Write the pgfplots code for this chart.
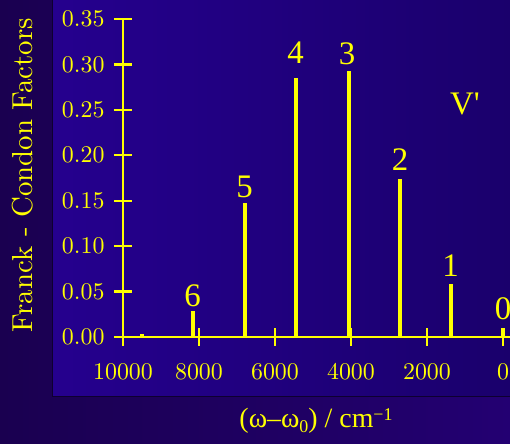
\documentclass[border=0pt]{standalone}
\usepackage{pgfplots}
\pgfplotsset{compat=1.18}
\usepackage{fontspec}
\setmainfont{lmroman10-regular}[Extension=.otf]
\newfontfamily\tnr{Liberation Serif}
\definecolor{outerL}{HTML}{1A0050}
\definecolor{outerR}{HTML}{230072}
\definecolor{panelL}{HTML}{25008E}
\definecolor{panelR}{HTML}{1A006C}
\definecolor{edge}{HTML}{0E0030}
\definecolor{yel}{HTML}{FFFF00}
\begin{document}
\begin{tikzpicture}
\useasboundingbox (0,0) rectangle (510bp,444bp);
\shade[left color=outerL, right color=outerR] (0,0) rectangle (510bp,444bp);
\shade[left color=panelL, right color=panelR] (52bp,47bp) rectangle (510bp,444bp);
\draw[edge, line width=1bp] (52bp,444bp) -- (52bp,47bp) -- (510bp,47bp);
\begin{axis}[
  at={(123bp,107bp)}, anchor=south west,
  scale only axis, width=387.6bp, height=318bp,
  x dir=reverse,
  xmin=-200, xmax=10000, ymin=0, ymax=0.35,
  axis x line*=bottom, axis y line*=left,
  axis line style={yel, line width=2.6bp},
  xtick={0,2000,4000,6000,8000,10000},
  ytick={0,0.05,0.10,0.15,0.20,0.25,0.30,0.35},
  scaled x ticks=false, scaled y ticks=false,
  major tick length=18bp, tick align=center,
  tick style={yel, line width=2.4bp},
  /pgf/number format/assume math mode=true,
  xticklabel style={/pgf/number format/set thousands separator={}, font=\fontsize{24}{29}\selectfont, text=yel, yshift=-14bp},
  yticklabel style={/pgf/number format/fixed, /pgf/number format/fixed zerofill, /pgf/number format/precision=2, font=\fontsize{24}{29}\selectfont, text=yel, xshift=-6bp},
  clip=false,
]
\addplot[ycomb, yel, line width=3.7bp] coordinates {
  (9500,0.003) (8166,0.0286) (6797,0.148) (5455,0.285) (4061,0.293) (2711,0.174) (1376,0.058) (8,0.0095)
};
\begin{scope}[every node/.style={text=yel, font=\tnr\fontsize{33}{38}\selectfont}]
\node at (axis cs:8166,0.045) {6};
\node at (axis cs:6797,0.165) {5};
\node at (axis cs:5455,0.3125) {4};
\node at (axis cs:4100,0.3115) {3};
\node at (axis cs:2711,0.195) {2};
\node at (axis cs:1376,0.079) {1};
\node at (axis cs:0,0.031) {0};
\node at (axis cs:1000,0.2564) {V'};
\end{scope}
\end{axis}
\node[text=yel, rotate=90, font=\fontsize{29}{34}\selectfont] at (23bp,269bp) {Franck - Condon Factors};
\node[text=yel, font=\tnr\fontsize{28}{32}\selectfont] at (316bp,23bp) {(ω–ω\raisebox{-0.35ex}{\fontsize{18}{20}\selectfont 0}) / cm\raisebox{0.6ex}{\fontsize{18}{20}\selectfont −1}};
\end{tikzpicture}
\end{document}
